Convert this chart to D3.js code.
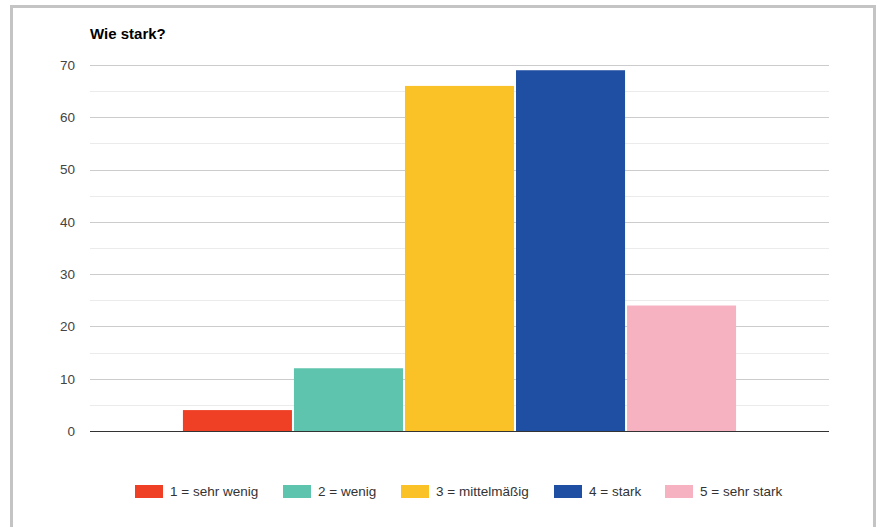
<!DOCTYPE html>
<html><head><meta charset="utf-8">
<script src="https://cdn.jsdelivr.net/npm/d3@7"></script>
<style>body{margin:0;background:#fff;font-family:Arial,"Liberation Sans",sans-serif}</style>
</head><body><svg id="c" width="877" height="527" style="display:block"></svg>
<script>
const title = "Wie stark?";
const seriesNames = ["1 = sehr wenig","2 = wenig","3 = mittelmäßig","4 = stark","5 = sehr stark"];
const seriesValues = [4, 12, 66, 69, 24];
const seriesColors = ["#ef4026","#5fc4ad","#fbc228","#1f4fa3","#f7b2c1"];
const yTicks = [0,10,20,30,40,50,60,70];
const yMinorTicks = [5,15,25,35,45,55,65];

(function(){
const svg = d3.select("#c");
const pLeft = 90, pRight = 829, pTop = 65, pBottom = 431;

// frame
svg.append("path").attr("d","M11.5,527 L11.5,6.5 L874.5,6.5 L874.5,527")
  .attr("fill","none").attr("stroke","#c4c4c4").attr("stroke-width",3);

const y = d3.scaleLinear().domain([0,70]).range([pBottom, pTop]);
const x0 = d3.scaleBand().domain(["g"]).range([pLeft, pRight]).paddingInner(0).paddingOuter(0.168);
const x1 = d3.scaleBand().domain(seriesNames).range([0, x0.bandwidth()]).paddingInner(0.018);

// gridlines
svg.append("g").selectAll("line").data(yMinorTicks).join("line")
  .attr("x1",pLeft).attr("x2",pRight).attr("y1",d=>Math.round(y(d))+0.5).attr("y2",d=>Math.round(y(d))+0.5)
  .attr("stroke","#ebebeb");
svg.append("g").selectAll("line").data(yTicks.filter(d=>d>0)).join("line")
  .attr("x1",pLeft).attr("x2",pRight).attr("y1",d=>Math.round(y(d))+0.5).attr("y2",d=>Math.round(y(d))+0.5)
  .attr("stroke","#cccccc");

// y axis labels
const yAxis = d3.axisLeft(y).tickValues(yTicks).tickSize(0).tickPadding(0).tickFormat(d3.format("d"));
const ga = svg.append("g").attr("transform",`translate(${pLeft-15},0)`).call(yAxis);
ga.select(".domain").remove();
ga.selectAll("text").attr("font-size",13.5).attr("fill","#444").attr("font-family","Arial,'Liberation Sans',sans-serif");

// bars
svg.append("g").selectAll("rect").data(seriesValues).join("rect")
  .attr("x",(d,i)=>x0("g")+x1(seriesNames[i]))
  .attr("width",x1.bandwidth())
  .attr("y",d=>y(d)).attr("height",d=>pBottom-y(d))
  .attr("fill",(d,i)=>seriesColors[i]);

// baseline
svg.append("line").attr("x1",pLeft).attr("x2",pRight).attr("y1",pBottom+0.5).attr("y2",pBottom+0.5)
  .attr("stroke","#333").attr("stroke-width",1);

// title
svg.append("text").attr("x",90).attr("y",39).text(title)
  .attr("font-size",15).attr("font-weight","bold").attr("fill","#000");

// legend
const legendX = [135,283,401,554,665];
const lg = svg.append("g").selectAll("g").data(seriesNames).join("g")
  .attr("transform",(d,i)=>`translate(${legendX[i]},485)`);
lg.append("rect").attr("width",28).attr("height",13).attr("fill",(d,i)=>seriesColors[i]);
lg.append("text").attr("x",35).attr("y",11).text(d=>d).attr("font-size",13.5).attr("fill","#333");
})();
</script></body></html>
